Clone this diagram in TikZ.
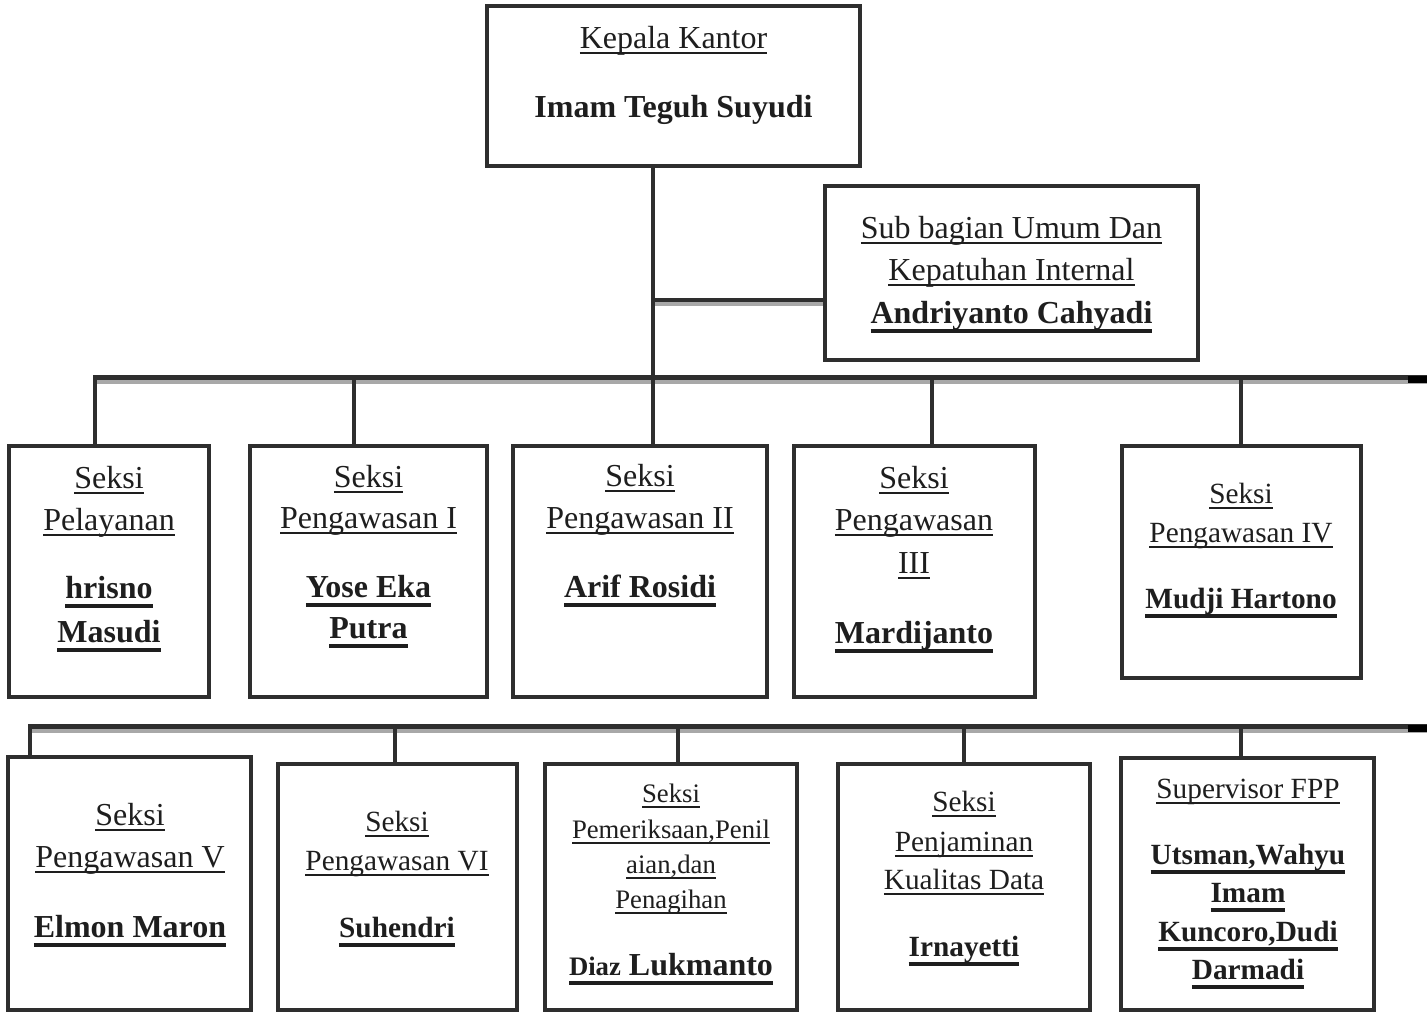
\documentclass[tikz,border=0pt]{standalone}
\usepackage{fontspec}
\setmainfont{Liberation Serif}
\definecolor{ln}{HTML}{2E2E2E}
\definecolor{sh}{HTML}{A8A8A8}
\definecolor{tc}{HTML}{1E1E1E}
\newcommand\ulr[1]{\setbox0\hbox{#1}\rlap{\rule[-6pt]{\wd0}{2.5pt}}\box0}
\newcommand\ulb[1]{\setbox0\hbox{\bfseries #1}\rlap{\rule[-9.5pt]{\wd0}{3.5pt}}\box0}
\newcommand\fsA{\fontsize{32}{38}\selectfont}
\newcommand\fsB{\fontsize{29.3}{35}\selectfont}
\newcommand\fsC{\fontsize{26.7}{32}\selectfont}
\tikzset{
  box/.style={draw=ln, line width=4.5pt, rectangle, inner sep=0pt},
  tx/.style={anchor=base, inner sep=0pt, text=tc, font=\fsA},
  txs/.style={tx, font=\fsB},
  txc/.style={tx, font=\fsC},
  conn/.style={draw=ln, line width=4pt},
  bar/.style={draw=ln, line width=5pt},
  barsh/.style={draw=sh, line width=4pt},
  barend/.style={draw=black, line width=7pt}
}
\begin{document}
\begin{tikzpicture}[x=1pt,y=-1pt]
\useasboundingbox[fill=white] (0,0) rectangle (1427,1013);

% coordinates of bars and junctions
\coordinate (bar1L) at (93,377.5);
\coordinate (bar1R) at (1427,377.5);
\coordinate (bar2L) at (28,726.5);
\coordinate (bar2R) at (1427,726.5);
\coordinate (tj) at (653,377.5);
\coordinate (sj) at (653,300);
\coordinate (sjs) at (655,303.5);

% bars
\draw[barsh] (95,382) -- (1427,382);
\draw[bar] (bar1L) -- (bar1R);
\draw[barend] (1408,379) -- (1427,379);
\draw[barsh] (30,731) -- (1427,731);
\draw[bar] (bar2L) -- (bar2R);
\draw[barend] (1408,728) -- (1427,728);

% boxes
\node[box, minimum width=373pt, minimum height=160pt] (kk) at (673.5,86) {};
\node[box, minimum width=373pt, minimum height=174pt] (sub) at (1011.5,273) {};
\node[box, minimum width=200pt, minimum height=251pt] (b1) at (109,571.5) {};
\node[box, minimum width=237pt, minimum height=251pt] (b2) at (368.5,571.5) {};
\node[box, minimum width=254pt, minimum height=251pt] (b3) at (640,571.5) {};
\node[box, minimum width=241pt, minimum height=251pt] (b4) at (914.5,571.5) {};
\node[box, minimum width=239pt, minimum height=232pt] (b5) at (1241.5,562) {};
\node[box, minimum width=243pt, minimum height=253pt] (b6) at (129.5,883.5) {};
\node[box, minimum width=239pt, minimum height=246pt] (b7) at (397.5,887) {};
\node[box, minimum width=252pt, minimum height=246pt] (b8) at (671,887) {};
\node[box, minimum width=252pt, minimum height=246pt] (b9) at (964,887) {};
\node[box, minimum width=253pt, minimum height=252pt] (b10) at (1247.5,884) {};

% connectors
\draw[conn] (tj |- kk.south) -- (tj);
\draw[barsh] (sjs) -- (sjs -| sub.west);
\draw[conn] (sj) -- (sj -| sub.west);
\draw[conn] (95,377.5) -- (95,0 |- b1.north);
\draw[conn] (354,377.5) -- (354,0 |- b2.north);
\draw[conn] (653,377.5) -- (653,0 |- b3.north);
\draw[conn] (932,377.5) -- (932,0 |- b4.north);
\draw[conn] (1241,377.5) -- (1241,0 |- b5.north);
\draw[conn] (30,726.5) -- (30,0 |- b6.north);
\draw[conn] (395,726.5) -- (395,0 |- b7.north);
\draw[conn] (678,726.5) -- (678,0 |- b8.north);
\draw[conn] (964,726.5) -- (964,0 |- b9.north);
\draw[conn] (1241,726.5) -- (1241,0 |- b10.north);

% texts
\node[tx] (kk1) at (673.5,48) {\ulr{Kepala Kantor}};
\node[tx] (kk2) at (673.5,117) {\textbf{Imam Teguh Suyudi}};

\node[tx] (s1) at (1011.5,238) {\ulr{Sub bagian Umum Dan}};
\node[tx] (s2) at (1011.5,280) {\ulr{Kepatuhan Internal}};
\node[tx] (s3) at (1011.5,323) {\ulb{Andriyanto Cahyadi}};

\node[tx] (b1a) at (109,488) {\ulr{Seksi}};
\node[tx] (b1b) at (109,530) {\ulr{Pelayanan}};
\node[tx] (b1c) at (109,598) {\ulb{hrisno}};
\node[tx] (b1d) at (109,642) {\ulb{Masudi}};

\node[tx] (b2a) at (368.5,487) {\ulr{Seksi}};
\node[tx] (b2b) at (368.5,528) {\ulr{Pengawasan I}};
\node[tx] (b2c) at (368.5,597) {\ulb{Yose Eka}};
\node[tx] (b2d) at (368.5,638) {\ulb{Putra}};

\node[tx] (b3a) at (640,486) {\ulr{Seksi}};
\node[tx] (b3b) at (640,528) {\ulr{Pengawasan II}};
\node[tx] (b3c) at (640,597) {\ulb{Arif Rosidi}};

\node[tx] (b4a) at (914,488) {\ulr{Seksi}};
\node[tx] (b4b) at (914,530) {\ulr{Pengawasan}};
\node[tx] (b4c) at (914,573) {\ulr{III}};
\node[tx] (b4d) at (914,643) {\ulb{Mardijanto}};

\node[txs] (b5a) at (1241,503) {\ulr{Seksi}};
\node[txs] (b5b) at (1241,542) {\ulr{Pengawasan IV}};
\node[txs] (b5c) at (1241,608) {\ulb{Mudji Hartono}};

\node[tx] (b6a) at (130,825) {\ulr{Seksi}};
\node[tx] (b6b) at (130,867) {\ulr{Pengawasan V}};
\node[tx] (b6c) at (130,937) {\ulb{Elmon Maron}};

\node[txs] (b7a) at (397,831) {\ulr{Seksi}};
\node[txs] (b7b) at (397,870) {\ulr{Pengawasan VI}};
\node[txs] (b7c) at (397,937) {\ulb{Suhendri}};

\node[txc] (b8a) at (671,802) {\ulr{Seksi}};
\node[txc] (b8b) at (671,838) {\ulr{Pemeriksaan,Penil}};
\node[txc] (b8c) at (671,873) {\ulr{aian,dan}};
\node[txc] (b8d) at (671,908) {\ulr{Penagihan}};
\node[tx] (b8e) at (671,975) {\ulb{{\fsC Diaz} Lukmanto}};

\node[txs] (b9a) at (964,811) {\ulr{Seksi}};
\node[txs] (b9b) at (964,851) {\ulr{Penjaminan}};
\node[txs] (b9c) at (964,889) {\ulr{Kualitas Data}};
\node[txs] (b9d) at (964,956) {\ulb{Irnayetti}};

\node[txs] (b10a) at (1248,798) {\ulr{Supervisor FPP}};
\node[txs] (b10b) at (1248,864) {\ulb{Utsman,Wahyu}};
\node[txs] (b10c) at (1248,902) {\ulb{Imam}};
\node[txs] (b10d) at (1248,941) {\ulb{Kuncoro,Dudi}};
\node[txs] (b10e) at (1248,979) {\ulb{Darmadi}};
\end{tikzpicture}
\end{document}
